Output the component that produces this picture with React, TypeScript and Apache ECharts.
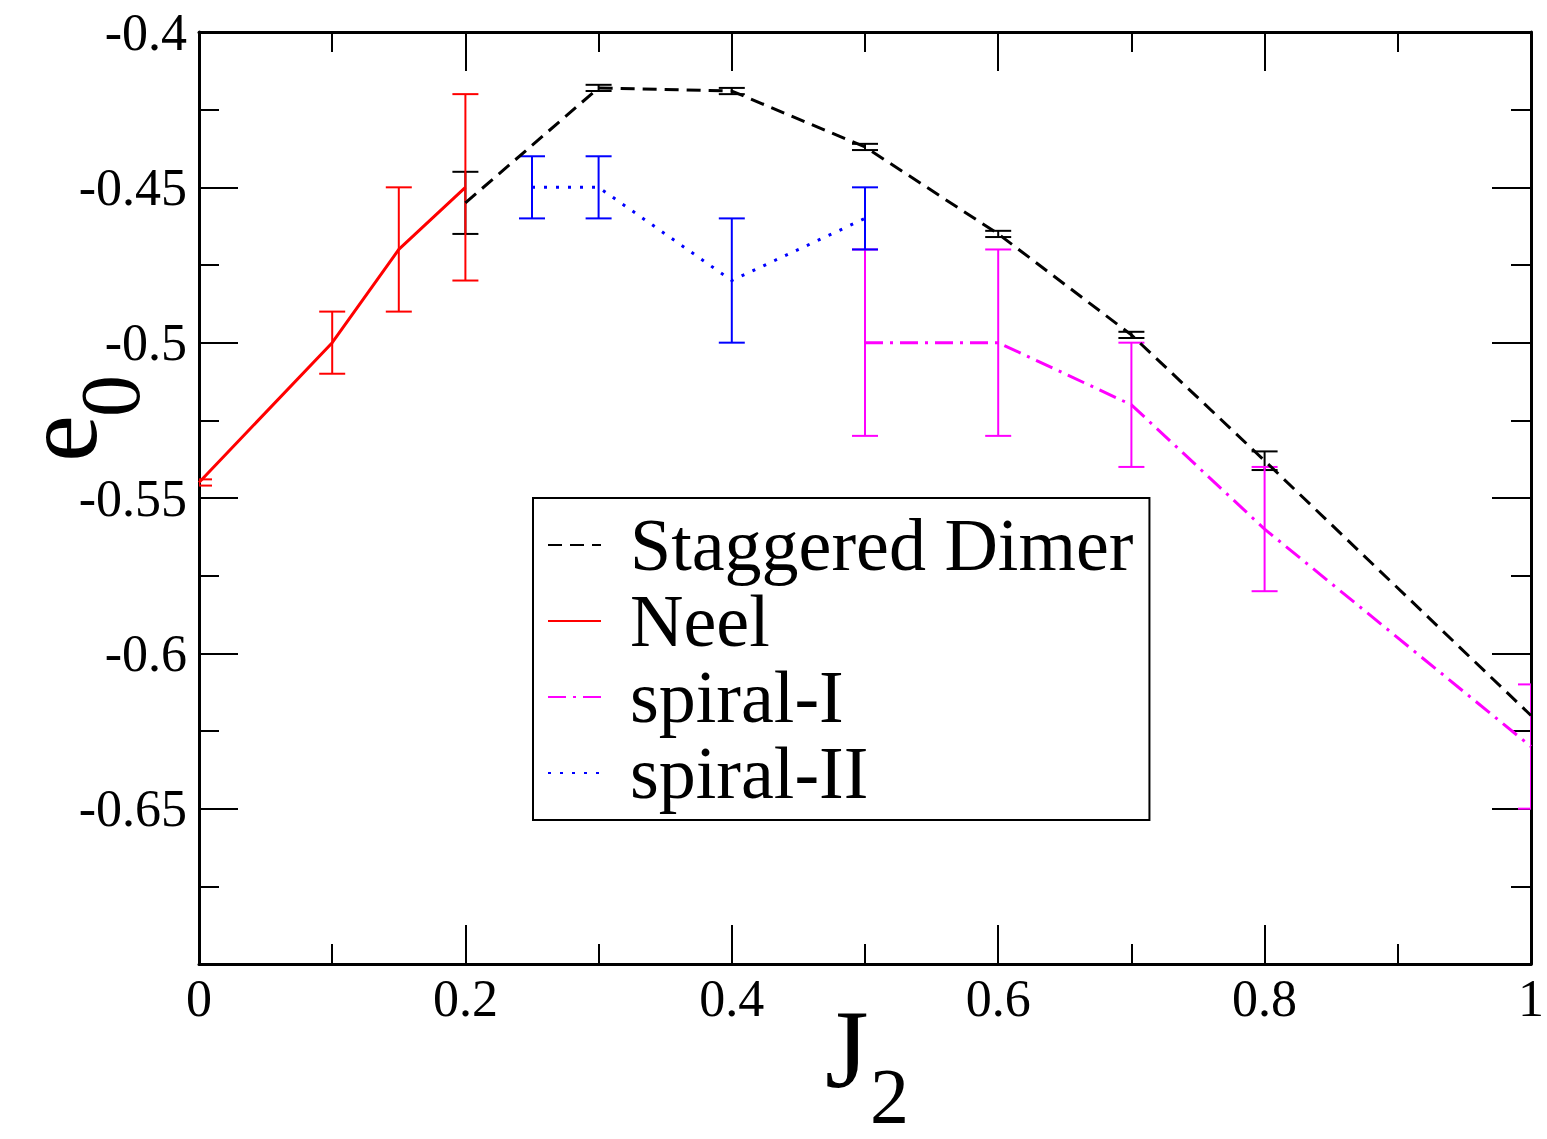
import React, { useEffect, useRef } from 'react';
import * as echarts from 'echarts';

const FONT = 'Liberation Serif';

// Staggered Dimer
const dimerJ = [0.2, 0.3, 0.4, 0.5, 0.6, 0.7, 0.8, 1.0];
const dimerE = [-0.455, -0.418, -0.419, -0.437, -0.465, -0.4975, -0.538, -0.62];
const dimerErr = [0.01, 0.001, 0.001, 0.001, 0.001, 0.001, 0.003, 0];

// Neel
const neelJ = [0, 0.1, 0.15, 0.2];
const neelE = [-0.545, -0.5, -0.47, -0.45];
const neelErr = [0.001, 0.01, 0.02, 0.03];

// spiral-I
const spiral1J = [0.5, 0.6, 0.7, 0.8, 1.0];
const spiral1E = [-0.5, -0.5, -0.52, -0.56, -0.63];
const spiral1Err = [0.03, 0.03, 0.02, 0.02, 0.02];

// spiral-II
const spiral2J = [0.25, 0.3, 0.4, 0.5];
const spiral2E = [-0.45, -0.45, -0.48, -0.46];
const spiral2Err = [0.01, 0.01, 0.02, 0.01];

const xTickValues = [0, 0.2, 0.4, 0.6, 0.8, 1];
const xTickLabels = ['0', '0.2', '0.4', '0.6', '0.8', '1'];
const yTickValues = [-0.7, -0.65, -0.6, -0.55, -0.5, -0.45, -0.4];
const yTickLabels = ['', '-0.65', '-0.6', '-0.55', '-0.5', '-0.45', '-0.4'];

const seriesNames = ['Staggered Dimer', 'Neel', 'spiral-I', 'spiral-II'];

function labelFor(values: number[], labels: string[]) {
  return (v: number) => {
    let best = 0;
    for (let i = 1; i < values.length; i++) {
      if (Math.abs(values[i] - v) < Math.abs(values[best] - v)) best = i;
    }
    return Math.abs(values[best] - v) < 1e-6 ? labels[best] : '';
  };
}

function pairs(xs: number[], ys: number[]) {
  return xs.map((x, i) => [x, ys[i]]);
}
function triples(xs: number[], ys: number[], es: number[]) {
  return xs.map((x, i) => [x, ys[i], es[i]]);
}

function errorSeries(name: string, color: string, data: number[][]) {
  return {
    name,
    type: 'custom',
    clip: true,
    z: 3,
    data,
    encode: { x: 0, y: 1 },
    renderItem: (params: any, api: any) => {
      const x = api.value(0);
      const y = api.value(1);
      const e = api.value(2);
      if (!(e > 0)) return { type: 'group', children: [] };
      const top = api.coord([x, y + e]);
      const bot = api.coord([x, y - e]);
      const hw = 13;
      const style = { stroke: color, lineWidth: 2 };
      return {
        type: 'group',
        children: [
          { type: 'line', shape: { x1: top[0], y1: top[1], x2: bot[0], y2: bot[1] }, style },
          { type: 'line', shape: { x1: top[0] - hw, y1: top[1], x2: top[0] + hw, y2: top[1] }, style },
          { type: 'line', shape: { x1: bot[0] - hw, y1: bot[1], x2: bot[0] + hw, y2: bot[1] }, style },
        ],
      };
    },
  };
}

function lineSeries(name: string, color: string, data: number[][], dash: any) {
  return {
    name,
    type: 'line',
    data,
    symbol: 'none',
    showSymbol: false,
    z: 4,
    clip: true,
    lineStyle: { color, width: 3, type: dash },
    itemStyle: { color },
  };
}

const axisCommon = {
  axisLine: { show: true, onZero: false, lineStyle: { color: '#000', width: 3 } },
  axisTick: { show: true, inside: true, length: 39, lineStyle: { color: '#000', width: 2 } },
  minorTick: { show: true, splitNumber: 2, length: 20, lineStyle: { color: '#000', width: 2 } },
  splitLine: { show: false },
};

export default function App() {
  const ref = useRef<HTMLDivElement>(null);
  useEffect(() => {
    const chart = echarts.init(ref.current!, null, { renderer: 'svg' });
    const option: any = {
      animation: false,
      backgroundColor: '#fff',
      grid: { left: 199, right: 14, top: 32, bottom: 175, containLabel: false },
      xAxis: [
        {
          type: 'value',
          min: 0,
          max: 1,
          interval: 0.2,
          position: 'bottom',
          ...axisCommon,
          axisLabel: {
            show: true,
            margin: 8,
            fontFamily: FONT,
            fontSize: 52,
            color: '#000',
            formatter: labelFor(xTickValues, xTickLabels),
          },
        },
        {
          type: 'value',
          min: 0,
          max: 1,
          interval: 0.2,
          position: 'top',
          ...axisCommon,
          axisLabel: { show: false },
        },
      ],
      yAxis: [
        {
          type: 'value',
          min: -0.7,
          max: -0.4,
          interval: 0.05,
          position: 'left',
          ...axisCommon,
          axisLabel: {
            show: true,
            margin: 12,
            fontFamily: FONT,
            fontSize: 52,
            color: '#000',
            formatter: labelFor(yTickValues, yTickLabels),
          },
        },
        {
          type: 'value',
          min: -0.7,
          max: -0.4,
          interval: 0.05,
          position: 'right',
          ...axisCommon,
          axisLabel: { show: false },
        },
      ],
      legend: {
        data: seriesNames,
        orient: 'vertical',
        left: 533,
        top: 498,
        itemWidth: 53,
        itemHeight: 14,
        itemGap: 2,
        padding: [10, 16, 10, 14],
        borderColor: '#000',
        borderWidth: 2,
        borderRadius: 0,
        backgroundColor: '#fff',
        itemStyle: { opacity: 0 },
        textStyle: {
          fontFamily: FONT,
          fontSize: 74,
          lineHeight: 74,
          color: '#000',
          padding: [0, 0, 0, 24],
        },
      },
      graphic: [
        {
          type: 'text',
          x: 825,
          y: 1049,
          style: { text: 'J', fontFamily: FONT, fontSize: 112, fill: '#000', align: 'left', verticalAlign: 'middle' },
        },
        {
          type: 'text',
          x: 870,
          y: 1095,
          style: { text: '2', fontFamily: FONT, fontSize: 78, fill: '#000', align: 'left', verticalAlign: 'middle' },
        },
        {
          type: 'text',
          x: 60,
          y: 462,
          rotation: Math.PI / 2,
          style: { text: 'e', fontFamily: FONT, fontSize: 106, fill: '#000', align: 'left', verticalAlign: 'middle' },
        },
        {
          type: 'text',
          x: 110,
          y: 417,
          rotation: Math.PI / 2,
          style: { text: '0', fontFamily: FONT, fontSize: 84, fill: '#000', align: 'left', verticalAlign: 'middle' },
        },
      ],
      series: [
        lineSeries(seriesNames[0], '#000000', pairs(dimerJ, dimerE), [14, 8]),
        lineSeries(seriesNames[1], '#ff0000', pairs(neelJ, neelE), 'solid'),
        lineSeries(seriesNames[2], '#ff00ff', pairs(spiral1J, spiral1E), [18, 7, 3, 7]),
        lineSeries(seriesNames[3], '#0000ff', pairs(spiral2J, spiral2E), [3, 9]),
        errorSeries('dimer-err', '#000000', triples(dimerJ, dimerE, dimerErr)),
        errorSeries('neel-err', '#ff0000', triples(neelJ, neelE, neelErr)),
        errorSeries('spiral1-err', '#ff00ff', triples(spiral1J, spiral1E, spiral1Err)),
        errorSeries('spiral2-err', '#0000ff', triples(spiral2J, spiral2E, spiral2Err)),
      ],
    };
    chart.setOption(option);
    return () => chart.dispose();
  }, []);
  return (
    <div
      ref={ref}
      style={{ position: 'absolute', left: 0, top: 0, width: 1547, height: 1139, background: '#fff' }}
    />
  );
}
